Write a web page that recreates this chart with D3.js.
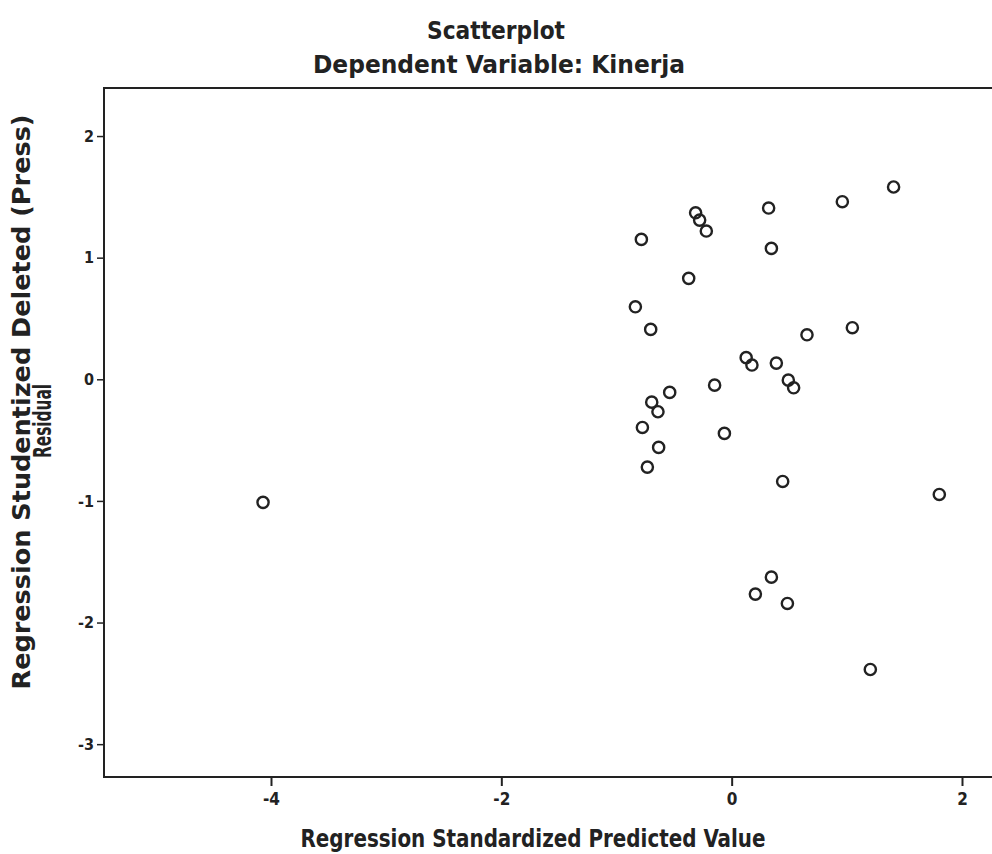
<!DOCTYPE html>
<html>
<head>
<meta charset="utf-8">
<script src="https://cdn.jsdelivr.net/npm/d3@7"></script>
<style>
  html, body { margin: 0; padding: 0; background: #fff; }
  svg { display: block; }
  text { font-family: "DejaVu Sans Condensed", "Liberation Sans Narrow", "Liberation Sans", sans-serif; font-weight: bold; fill: #222; }
</style>
</head>
<body>
<svg id="chart" width="992" height="854"></svg>
<script>
// ---- data ----
const predicted = [-0.784, -0.313, -0.278, -0.220, 0.321, 0.961, 1.406, 0.345, -0.373, -0.836,
                   -0.703, 0.654, 1.048, 0.126, 0.176, 0.388, 0.492, 0.538, -0.148, -0.538,
                   -0.694, -0.640, -0.775, -0.063, -0.634, -0.732, 0.443, 1.803, 0.345, 0.206,
                   0.484, 1.204, -4.069];
const residual  = [1.150, 1.369, 1.309, 1.219, 1.408, 1.460, 1.581, 1.076, 0.830, 0.596,
                   0.410, 0.366, 0.424, 0.178, 0.117, 0.133, -0.007, -0.070, -0.048, -0.108,
                   -0.188, -0.267, -0.396, -0.445, -0.560, -0.722, -0.840, -0.947, -1.627, -1.766,
                   -1.843, -2.386, -1.012];
const xTicks = [-4, -2, 0, 2];
const yTicks = [-3, -2, -1, 0, 1, 2];
const title = "Scatterplot";
const subtitle = "Dependent Variable: Kinerja";
const xLabel = "Regression Standardized Predicted Value";
const yLabelLines = ["Regression Studentized Deleted (Press)", "Residual"];

// ---- layout ----
const svg = d3.select("#chart");
const pLeft = 104, pTop = 88, pBottom = 777, pRight = 1000;

const x = d3.scaleLinear().domain([-5.45, 2.33]).range([pLeft, pRight]);
const y = d3.scaleLinear().domain([-3.27, 2.395]).range([pBottom, pTop]);

const ff = "'DejaVu Sans Condensed','Liberation Sans Narrow',sans-serif";

// titles
svg.append("text").attr("x", 496).attr("y", 39).attr("text-anchor", "middle")
  .attr("font-size", 24).attr("textLength", 138).attr("lengthAdjust", "spacingAndGlyphs").text(title);
svg.append("text").attr("x", 499).attr("y", 73).attr("text-anchor", "middle")
  .attr("font-size", 24).attr("textLength", 372).attr("lengthAdjust", "spacingAndGlyphs").text(subtitle);

// axes
const xAxis = d3.axisBottom(x).tickValues(xTicks).tickSize(9).tickPadding(7).tickFormat(d => String(d));
const gx = svg.append("g").attr("transform", `translate(0,${pBottom})`).call(xAxis);
gx.select(".domain").remove();
gx.selectAll(".tick line").attr("stroke", "#222").attr("stroke-width", 2);
gx.selectAll(".tick text").attr("fill", "#222")
  .style("font-family", ff).style("font-weight", "bold").style("font-size", "17px");

const yAxis = d3.axisLeft(y).tickValues(yTicks).tickSize(7).tickPadding(3).tickFormat(d => String(d));
const gy = svg.append("g").attr("transform", `translate(${pLeft},0)`).call(yAxis);
gy.select(".domain").remove();
gy.selectAll(".tick line").attr("stroke", "#222").attr("stroke-width", 1.5);
gy.selectAll(".tick text").attr("fill", "#222")
  .style("font-family", ff).style("font-weight", "bold").style("font-size", "16px");

// frame (open on the right, which runs off the picture)
svg.append("path")
  .attr("d", `M${pRight},${pTop} L${pLeft},${pTop} L${pLeft},${pBottom} L${pRight},${pBottom}`)
  .attr("fill", "none").attr("stroke", "#222").attr("stroke-width", 2);

// axis labels
svg.append("text").attr("x", 533).attr("y", 847).attr("text-anchor", "middle")
  .attr("font-size", 25).attr("textLength", 465).attr("lengthAdjust", "spacingAndGlyphs").text(xLabel);

svg.append("text").attr("transform", "translate(30,402) rotate(-90)").attr("text-anchor", "middle")
  .attr("font-size", 24).attr("textLength", 575).attr("lengthAdjust", "spacingAndGlyphs").text(yLabelLines[0]);
svg.append("text").attr("transform", "translate(51,421) rotate(-90)").attr("text-anchor", "middle")
  .attr("font-size", 24).attr("textLength", 74).attr("lengthAdjust", "spacingAndGlyphs").text(yLabelLines[1]);

// points
svg.append("g").selectAll("circle")
  .data(predicted.map((p, i) => [p, residual[i]]))
  .join("circle")
  .attr("cx", d => x(d[0]))
  .attr("cy", d => y(d[1]))
  .attr("r", 5.6)
  .attr("fill", "none")
  .attr("stroke", "#222")
  .attr("stroke-width", 2.4);
</script>
</body>
</html>
